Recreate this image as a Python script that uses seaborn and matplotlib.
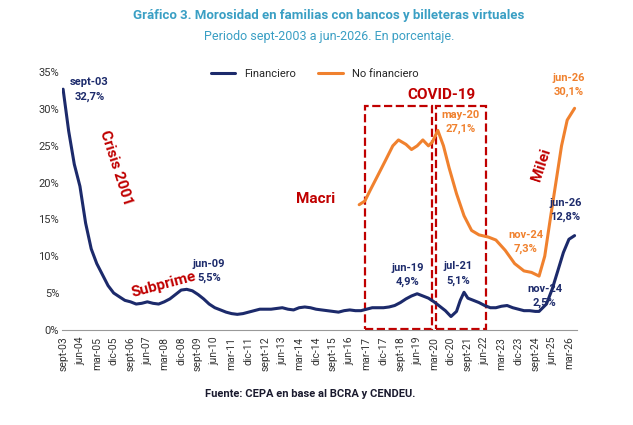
import matplotlib
matplotlib.use("Agg")
import matplotlib.pyplot as plt
import matplotlib.dates as mdates
from matplotlib.patches import Rectangle
import seaborn as sns
import pandas as pd

sns.set_style("white")
plt.rcParams['font.family'] = ['Roboto', 'DejaVu Sans']

fin_dates = ["2003-09","2003-12","2004-03","2004-06","2004-09","2004-12","2005-03","2005-06","2005-09","2005-12",
 "2006-03","2006-06","2006-09","2006-12","2007-03","2007-06","2007-09","2007-12","2008-03","2008-06","2008-09","2008-12",
 "2009-03","2009-06","2009-09","2009-12","2010-03","2010-06","2010-09","2010-12","2011-03","2011-06","2011-09","2011-12",
 "2012-03","2012-06","2012-09","2012-12","2013-03","2013-06","2013-09","2013-12","2014-03","2014-06","2014-09","2014-12",
 "2015-03","2015-06","2015-09","2015-12","2016-03","2016-06","2016-09","2016-12","2017-03","2017-06","2017-09","2017-12",
 "2018-03","2018-06","2018-09","2018-12","2019-03","2019-06","2019-09","2019-12","2020-03","2020-06","2020-09","2020-12",
 "2021-03","2021-05","2021-07","2021-09","2021-12","2022-03","2022-06","2022-09","2022-12","2023-03","2023-06","2023-09",
 "2023-12","2024-03","2024-06","2024-09","2024-11","2025-03","2025-06","2025-09","2025-12","2026-03","2026-06"]
fin_vals = [32.7,27.0,22.5,19.5,14.5,11.0,9.0,7.5,6.0,5.0,
 4.5,4.0,3.8,3.5,3.6,3.8,3.6,3.5,3.8,4.2,4.8,5.4,
 5.5,5.3,4.8,4.2,3.5,3.0,2.7,2.4,2.2,2.1,2.2,2.4,
 2.6,2.8,2.8,2.8,2.9,3.0,2.8,2.7,3.0,3.1,3.0,2.8,
 2.7,2.6,2.5,2.4,2.6,2.7,2.6,2.6,2.8,3.0,3.0,3.0,
 3.1,3.3,3.7,4.2,4.6,4.9,4.6,4.3,3.8,3.2,2.6,1.8,
 2.5,4.0,5.1,4.3,4.0,3.7,3.3,3.0,3.0,3.2,3.3,3.0,
 2.8,2.6,2.6,2.5,2.5,3.5,5.5,8.0,10.5,12.3,12.8]

nf_dates = ["2016-11","2017-02","2017-05","2017-09","2018-01","2018-05","2018-08","2018-12","2019-03","2019-06",
 "2019-09","2019-12","2020-02","2020-05","2020-08","2020-11","2021-03","2021-07","2021-11","2022-03","2022-08",
 "2022-12","2023-05","2023-10","2024-03","2024-07","2024-11","2025-02","2025-05","2025-08","2025-11","2026-02","2026-06"]
nf_vals = [17.0,17.5,19.0,21.0,23.0,25.0,25.8,25.2,24.5,25.0,
 25.8,25.0,25.5,27.1,25.0,22.0,18.5,15.5,13.5,12.9,12.6,
 12.2,10.8,9.0,8.0,7.8,7.3,10.0,15.0,20.0,25.0,28.5,30.1]

NAVY = "#1c2a6b"
ORANGE = "#f0812e"
RED = "#c00000"
TEAL = "#3a9fc4"

df_f = pd.DataFrame({"fecha": pd.to_datetime(fin_dates), "valor": fin_vals})
df_n = pd.DataFrame({"fecha": pd.to_datetime(nf_dates), "valor": nf_vals})

fig = plt.figure(figsize=(6.33, 4.25), dpi=100)
ax = fig.add_axes([0.098, 0.224, 0.814, 0.606])
sns.lineplot(data=df_f, x="fecha", y="valor", ax=ax, color=NAVY, lw=2.2, label="Financiero")
sns.lineplot(data=df_n, x="fecha", y="valor", ax=ax, color=ORANGE, lw=2.2, label="No financiero")

ax.set_ylim(0, 35)
ax.set_xlim(pd.Timestamp("2003-08-15"), pd.Timestamp("2026-07-15"))
ax.set_yticks(range(0, 36, 5))
ax.set_yticklabels([f"{v}%" for v in range(0, 36, 5)], fontsize=8, color="#333333")
mes = {3: "mar", 6: "jun", 9: "sept", 12: "dic"}
ticks = pd.date_range("2003-09-01", "2026-03-01", freq="9MS")
ax.set_xticks(ticks)
ax.set_xticklabels([f"{mes[t.month]}-{t.year % 100:02d}" for t in ticks], rotation=90, fontsize=7.5, color="#333333")
ax.set_xlabel(""); ax.set_ylabel("")
for s in ["top", "right", "left"]:
    ax.spines[s].set_visible(False)
ax.spines["bottom"].set_color("#999999")
ax.tick_params(axis="x", length=3, color="#999999", pad=2)
ax.tick_params(axis="y", length=0, pad=2)
ax.legend(loc="upper center", bbox_to_anchor=(0.49, 1.05), ncol=2, frameon=False, fontsize=8, handlelength=2.2)

D = lambda s: mdates.date2num(pd.Timestamp(s))
for a, b in [("2017-02-01", "2020-02-01"), ("2020-04-01", "2022-07-01")]:
    ax.add_patch(Rectangle((D(a), 0.05), D(b) - D(a), 30.3, fill=False, ec=RED, lw=1.6, ls="--", clip_on=False))

def t(d, y, s, c, **kw):
    ax.text(D(d), y, s, color=c, fontsize=8, fontweight="bold", ha="center", **kw)

t("2004-11-01", 33.2, "sept-03", NAVY); t("2004-11-01", 31.3, "32,7%", NAVY)
t("2010-03-01", 8.6, "jun-09", NAVY); t("2010-03-01", 6.7, "5,5%", NAVY)
t("2019-01-01", 8.0, "jun-19", NAVY); t("2019-01-01", 6.1, "4,9%", NAVY)
t("2021-04-01", 8.2, "jul-21", NAVY); t("2021-04-01", 6.3, "5,1%", NAVY)
t("2025-02-01", 5.2, "nov-24", NAVY); t("2025-02-01", 3.3, "2,5%", NAVY)
t("2026-01-01", 16.8, "jun-26", NAVY); t("2026-01-01", 14.9, "12,8%", NAVY)
t("2021-05-01", 28.8, "may-20", ORANGE); t("2021-05-01", 26.9, "27,1%", ORANGE)
t("2024-04-01", 12.5, "nov-24", ORANGE); t("2024-04-01", 10.6, "7,3%", ORANGE)
t("2026-03-01", 33.8, "jun-26", ORANGE); t("2026-03-01", 31.9, "30,1%", ORANGE)

ax.text(D("2006-01-01"), 22, "Crisis 2001", color=RED, fontsize=11, fontweight="bold", ha="center", va="center", rotation=-72)
ax.text(D("2008-03-01"), 6.2, "Subprime", color=RED, fontsize=11, fontweight="bold", ha="center", va="center", rotation=15)
ax.text(D("2014-12-01"), 17.2, "Macri", color=RED, fontsize=11, fontweight="bold", ha="center")
ax.text(D("2020-07-01"), 31.3, "COVID-19", color=RED, fontsize=11, fontweight="bold", ha="center")
ax.text(D("2024-12-01"), 22.5, "Milei", color=RED, fontsize=11, fontweight="bold", ha="center", va="center", rotation=72)

fig.text(0.52, 0.955, "Gráfico 3. Morosidad en familias con bancos y billeteras virtuales", color=TEAL, fontsize=9.5, fontweight="bold", ha="center")
fig.text(0.52, 0.905, "Periodo sept-2003 a jun-2026. En porcentaje.", color=TEAL, fontsize=9, ha="center")
fig.text(0.49, 0.065, "Fuente: CEPA en base al BCRA y CENDEU.", color="#1a1a2e", fontsize=8, fontweight="bold", ha="center")

fig.savefig("out.png", dpi=100)
